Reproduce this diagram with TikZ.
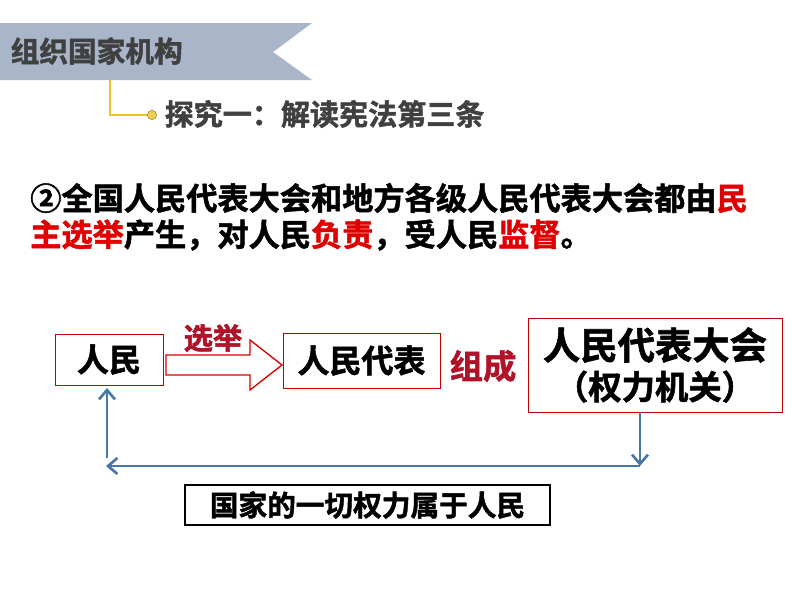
\documentclass[tikz,border=0pt]{standalone}
\usepackage{fontspec}
\setmainfont{Noto Sans CJK SC}[BoldFont={Noto Sans CJK SC Bold},BoldFeatures={FakeBold=1.6}]
\usetikzlibrary{arrows.meta,shapes.arrows}
\definecolor{banner}{HTML}{A9B5C8}
\definecolor{dgray}{HTML}{404040}
\definecolor{rtxt}{HTML}{E00000}
\definecolor{dred}{HTML}{B0122A}
\definecolor{bline}{HTML}{4A76A8}
\definecolor{yel}{HTML}{E8C32A}
\newcommand{\fs}[1]{\fontsize{#1}{#1}\selectfont\bfseries}
\tikzset{
 rbox/.style={draw=red!75!black,line width=0.6pt,inner sep=0pt,fill=white},
 barrow/.style={draw=bline,line width=2.2pt,-{Straight Barb[length=7pt,width=12pt,line width=2pt]}}
}
\begin{document}
\begin{tikzpicture}[x=0.75pt,y=-0.75pt]
\useasboundingbox (0,0) rectangle (794,596);
\fill[banner] (0,23) -- (312,23) -- (273,52) -- (312,80) -- (0,80) -- cycle;
\node[anchor=west,text=dgray,font=\fs{21.5}] (title) at (6,51) {组织国家机构};
\coordinate (yc) at (152,115);
\draw[yel,line width=1pt] (110,80) |- (yc);
\node[circle,draw=yel!70!black,fill=yel!80,minimum size=7pt,inner sep=0pt] (dot) at (yc) {};
\node[anchor=west,text=dgray,font=\fs{21.8}] (sub) at (160,114) {探究一：解读宪法第三条};
\node[anchor=west,font=\fs{23.4},inner sep=0pt] (l1) at (30,198) {②全国人民代表大会和地方各级人民代表大会都由\textcolor{rtxt}{民}};
\node[anchor=west,font=\fs{23.4},inner sep=0pt] (l2) at (30,235) {\textcolor{rtxt}{主选举}产生，对人民\textcolor{rtxt}{负责}，受人民\textcolor{rtxt}{监督}。};
\node[rbox,minimum width=108*0.75pt,minimum height=51*0.75pt,font=\fs{24}] (rm) at (109,359.5) {人民};
\node[rbox,minimum width=157*0.75pt,minimum height=55*0.75pt,font=\fs{24}] (db) at (361.5,360.5) {人民代表};
\node[rbox,minimum width=254*0.75pt,minimum height=94*0.75pt,align=center,font=\fs{28}] (dh) at (655,365) {人民代表大会\\[2pt]{\fs{25}（权力机关）}};
\draw[red!85!black,line width=1pt,fill=white] (166,355) -- (250,355) -- (250,340) -- (282,365) -- (250,390) -- (250,375) -- (166,375) -- cycle;
\node[text=dred,font=\fs{22}] (xj) at (213,338) {选举};
\node[text=dred,font=\fs{25}] (zc) at (483,366) {组成};
\coordinate (c0) at (640,412);
\coordinate (c1) at (640,466);
\coordinate (c2) at (106,466);
\coordinate (c3) at (107,458);
\coordinate (c4) at (107,388);
\draw[barrow] (c0) -- (c1);
\draw[barrow] (c1) -- (c2);
\draw[barrow] (c3) -- (c4);
\node[draw=black,line width=0.8pt,minimum width=365*0.75pt,minimum height=40*0.75pt,inner sep=0pt,font=\fs{21.5}] (all) at (367.5,505) {国家的一切权力属于人民};
\end{tikzpicture}
\end{document}
